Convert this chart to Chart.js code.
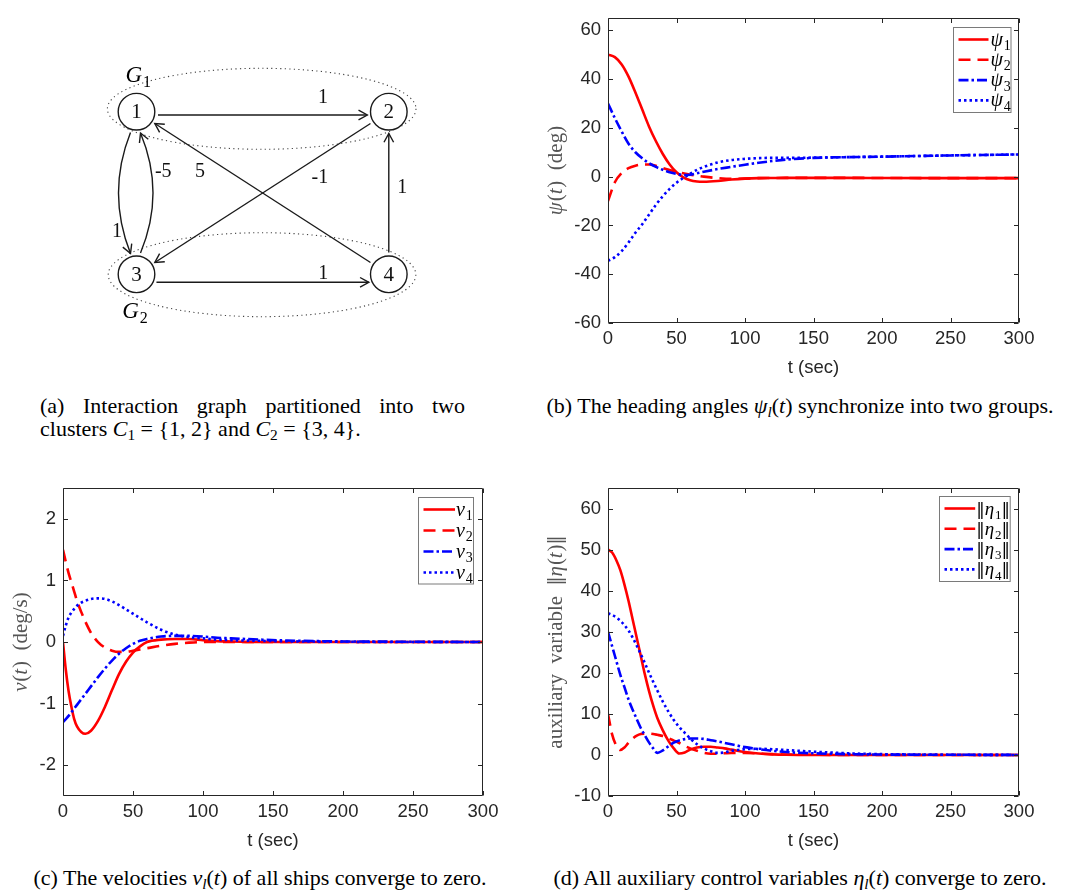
<!DOCTYPE html>
<html><head><meta charset="utf-8">
<script src="https://cdn.jsdelivr.net/npm/chart.js@4.4.1/dist/chart.umd.min.js"></script>
<style>
html,body{margin:0;padding:0;background:#fff;width:1070px;height:893px;overflow:hidden;position:relative;}
canvas{position:absolute;}
.cap{position:absolute;font-family:"Liberation Serif","Times New Roman",serif;font-size:22px;color:#000;white-space:nowrap;line-height:23px;}
.cap sub{font-size:0.7em;vertical-align:-0.25em;line-height:0;}
</style></head><body>
<canvas id="ca" width="360" height="280" style="left:90px;top:50px"></canvas>
<canvas id="cb" width="540" height="385" style="left:530px;top:0px"></canvas>
<canvas id="cc" width="530" height="385" style="left:0px;top:470px"></canvas>
<canvas id="cd" width="540" height="385" style="left:530px;top:470px"></canvas>

<div class="cap" style="left:40px;top:393.5px;width:425px;text-align:justify;text-align-last:justify;">(a) Interaction graph partitioned into two</div>
<div class="cap" style="left:40px;top:416.5px;">clusters <i>C</i><sub>1</sub> = {1, 2} and <i>C</i><sub>2</sub> = {3, 4}.</div>
<div class="cap" style="left:530px;top:393.5px;width:540px;text-align:center;">(b) The heading angles <i>ψ</i><sub><i>l</i></sub>(<i>t</i>) synchronize into two groups.</div>
<div class="cap" style="left:0px;top:865.5px;width:520px;text-align:center;">(c) The velocities <i>v</i><sub><i>l</i></sub>(<i>t</i>) of all ships converge to zero.</div>
<div class="cap" style="left:530px;top:865.5px;width:540px;text-align:center;">(d) All auxiliary control variables <i>η</i><sub><i>l</i></sub>(<i>t</i>) converge to zero.</div>

<script>
// ---------------- DATA ----------------
// (a) interaction graph
const nodeLabels = ['1', '2', '3', '4'];
const nodeX = [0, 1, 0, 1];
const nodeY = [1, 1, 0, 0];
const edgeFrom = [1, 3, 4, 4, 2, 1, 3];
const edgeTo = [2, 4, 2, 1, 3, 3, 1];
const edgeWeight = ['1', '1', '1', '5', '-1', '1', '-5'];
const clusterNames = ['G_1', 'G_2'];

// common x ticks
const xTicks = [0, 50, 100, 150, 200, 250, 300];

// (b) heading angles
const tB = [0,5,10,15,20,25,30,35,40,45,50,55,60,65,70,80,90,100,110,120,130,140,150,175,200,250,300];
const psi1 = [50,49,46,41,34.5,27.5,20.5,14.5,9.3,5,1.8,-0.3,-1.5,-2,-2.1,-1.8,-1.2,-0.8,-0.6,-0.55,-0.5,-0.5,-0.5,-0.5,-0.55,-0.6,-0.6];
const psi2 = [-10,-2.3,1.5,3.5,4.5,5,5,4.5,3.5,2.7,2,1.4,0.8,0.4,0,-0.6,-0.9,-0.8,-0.6,-0.55,-0.5,-0.5,-0.5,-0.5,-0.55,-0.6,-0.6];
const psi3 = [30,24,18.5,13.5,10,7.5,5.5,4,2.8,1.8,1.1,0.7,0.8,1.4,2,3.1,4,4.9,5.7,6.4,7,7.4,7.7,8,8.2,8.7,9.1];
const psi4 = [-34.5,-33,-30.5,-27,-23,-19.5,-15.5,-11.5,-8,-5,-2.5,-0.5,1.2,2.8,4,5.8,6.8,7.3,7.6,7.7,7.7,7.7,7.8,8,8.2,8.7,9.1];
const yTicksB = [-60, -40, -20, 0, 20, 40, 60];
const namesB = ['ψ_1', 'ψ_2', 'ψ_3', 'ψ_4'];

// (c) velocities
const tC = [0,2,4,6,8,10,13,16,20,25,30,35,40,45,50,55,60,70,80,90,100,110,120,140,160,200,250,300];
const v1 = [0,-0.45,-0.8,-1.05,-1.25,-1.37,-1.46,-1.49,-1.44,-1.28,-1.05,-0.78,-0.52,-0.32,-0.17,-0.07,0,0.04,0.05,0.05,0.03,0.015,0.01,0,0,0,0,0];
const v2 = [1.5,1.3,1.12,0.97,0.82,0.67,0.49,0.33,0.15,0,-0.09,-0.14,-0.16,-0.16,-0.14,-0.12,-0.1,-0.06,-0.03,-0.01,0,0,0,0,0,0,0,0];
const v3 = [-1.3,-1.25,-1.2,-1.14,-1.08,-1.02,-0.93,-0.84,-0.72,-0.57,-0.43,-0.3,-0.19,-0.1,-0.03,0.02,0.05,0.09,0.1,0.1,0.09,0.07,0.06,0.04,0.025,0.01,0.005,0];
const v4 = [0.1,0.27,0.4,0.48,0.54,0.59,0.64,0.67,0.7,0.71,0.7,0.66,0.6,0.53,0.46,0.39,0.32,0.2,0.12,0.08,0.06,0.04,0.03,0.02,0.012,0.005,0,0];
const yTicksC = [-2, -1, 0, 1, 2];
const namesC = ['v_1', 'v_2', 'v_3', 'v_4'];

// (d) auxiliary variables
const tD = [0,3,6,9,12,15,18,21,24,27,30,33,36,40,44,48,52,56,60,65,70,75,80,85,90,100,110,120,130,150,175,200,250,300];
const eta1 = [50,49.3,47.5,45,41.5,37.5,33,28.5,24,19.5,15.5,12,9,6,3.5,1.6,0.35,0.6,1.3,1.8,2,2,1.8,1.6,1.3,0.7,0.35,0.15,0.05,0,0,0,0,0];
const eta2 = [10,5,2.3,1.2,1.8,3,4,4.7,5.1,5.2,5.2,5.1,4.9,4.6,4.1,3.5,2.9,2.2,1.6,1,0.5,0.3,0.3,0.4,0.5,0.5,0.35,0.2,0.12,0.05,0,0,0,0];
const eta3 = [30,26.5,23,19.5,16.5,13.5,11,8.7,6.5,4.7,3,1.6,0.5,1.1,2.1,3,3.5,3.85,4,4,3.9,3.6,3.3,2.95,2.6,1.9,1.4,1,0.7,0.4,0.2,0.1,0.05,0];
const eta4 = [34.5,34.1,33.5,32.7,31.6,30.3,28.6,26.6,24.5,22.3,20,17.8,15.7,13,10.6,8.5,6.8,5.4,4,2.6,1.6,0.9,0.5,0.6,1,1.4,1.5,1.4,1.2,0.8,0.4,0.2,0.05,0];
const yTicksD = [-10, 0, 10, 20, 30, 40, 50, 60];
const namesD = ['‖η_1‖', '‖η_2‖', '‖η_3‖', '‖η_4‖'];

// ---------------- HELPERS ----------------
const SERIF = '"Liberation Serif","Times New Roman",serif';
const BARS = '"DejaVu Serif","Liberation Serif",serif';
const SANS = '"Liberation Sans",Arial,Helvetica,sans-serif';
const INK = '#262626';

function parseTex(s, allMath) {
  const segs = []; let math = !!allMath;
  for (let i = 0; i < s.length; i++) {
    const c = s[i];
    if (c === '$') { math = !math; continue; }
    if (c === '_') { segs.push({ t: s[++i], sub: true }); continue; }
    if (c === '‖') { segs.push({ t: c, bar: true }); continue; }
    const it = math && /[A-Za-zα-ω]/.test(c);
    segs.push({ t: c, it });
  }
  return segs;
}
function drawRich(ctx, segs, x, y, size, color, measureOnly) {
  let cx = x;
  for (const sg of segs) {
    const fs = sg.sub ? Math.round(size * 0.68) : (sg.bar ? Math.round(size * 0.88) : size);
    ctx.font = (sg.it ? 'italic ' : '') + fs + 'px ' + (sg.bar ? BARS : SERIF);
    if (!measureOnly) { ctx.fillStyle = color; ctx.fillText(sg.t, cx, y + (sg.sub ? size * 0.22 : 0)); }
    cx += ctx.measureText(sg.t).width + (sg.it ? size * 0.04 : 0);
  }
  return cx - x;
}

const framePlugin = {
  id: 'frame',
  afterDatasetsDraw(chart) {
    const { ctx, chartArea: a, scales } = chart;
    const L = Math.round(a.left) + 0.5, R = Math.round(a.right) - 0.5;
    const T = Math.round(a.top) + 0.5, B = Math.round(a.bottom) - 0.5;
    const tl = 4.5;
    ctx.save();
    ctx.strokeStyle = INK; ctx.lineWidth = 1; ctx.setLineDash([]);
    ctx.beginPath();
    ctx.rect(L, T, R - L, B - T);
    scales.x.ticks.forEach(t => {
      const px = Math.round(scales.x.getPixelForValue(t.value)) + 0.5;
      ctx.moveTo(px, B); ctx.lineTo(px, B - tl);
      ctx.moveTo(px, T); ctx.lineTo(px, T + tl);
    });
    scales.y.ticks.forEach(t => {
      const py = Math.round(scales.y.getPixelForValue(t.value)) + 0.5;
      ctx.moveTo(L, py); ctx.lineTo(L + tl, py);
      ctx.moveTo(R, py); ctx.lineTo(R - tl, py);
    });
    ctx.stroke();
    ctx.restore();
  }
};

const boxLegendPlugin = {
  id: 'boxLegend',
  afterDraw(chart, args, o) {
    if (!o || !o.names) return;
    const { ctx, chartArea: a } = chart;
    const bx = Math.round(a.right - o.insetR - o.w) + 0.5, by = Math.round(a.top + o.insetT) + 0.5;
    ctx.save();
    ctx.fillStyle = '#fff';
    ctx.fillRect(bx, by, o.w, o.h);
    ctx.strokeStyle = '#7a7a7a'; ctx.lineWidth = 1; ctx.setLineDash([]);
    ctx.strokeRect(bx, by, o.w, o.h);
    chart.data.datasets.forEach((ds, i) => {
      const yy = by + o.first + i * o.rowH;
      ctx.strokeStyle = ds.borderColor; ctx.lineWidth = ds.borderWidth;
      ctx.setLineDash(ds.borderDash || []);
      ctx.lineCap = 'butt';
      ctx.beginPath(); ctx.moveTo(bx + o.padL, yy); ctx.lineTo(bx + o.padL + o.sample, yy); ctx.stroke();
      ctx.setLineDash([]);
      ctx.textBaseline = 'alphabetic'; ctx.textAlign = 'left';
      drawRich(ctx, parseTex(o.names[i], true), bx + o.padL + o.sample + o.gap, yy + 6, o.size || 20, '#000');
    });
    ctx.restore();
  }
};

const yTitlePlugin = {
  id: 'yTitle',
  afterDraw(chart, args, o) {
    if (!o || !o.text) return;
    const { ctx, chartArea: a } = chart;
    const segs = parseTex(o.text, false);
    ctx.save();
    ctx.textBaseline = 'middle'; ctx.textAlign = 'left';
    const w = drawRich(ctx, segs, 0, 0, o.size, o.color, true);
    ctx.translate(o.cx, (a.top + a.bottom) / 2);
    ctx.rotate(-Math.PI / 2);
    drawRich(ctx, segs, -w / 2, 0, o.size, o.color);
    ctx.restore();
  }
};

function series(t, v) { return t.map((x, i) => ({ x, y: v[i] })); }

const STYLES = [
  { c: '#ff0000', d: [] },
  { c: '#ff0000', d: [12, 7] },
  { c: '#0000ff', d: [10, 3, 2.5, 3] },
  { c: '#0000ff', d: [2.5, 3] }
];

function lineChart(id, p) {
  const datasets = p.series.map((v, i) => ({
    label: p.names[i],
    data: series(p.t, v),
    borderColor: STYLES[i].c,
    borderDash: STYLES[i].d,
    borderWidth: 2.6,
    pointRadius: 0,
    fill: false,
    cubicInterpolationMode: 'monotone',
    order: 3 - i
  }));
  return new Chart(document.getElementById(id), {
    type: 'line',
    data: { datasets },
    options: {
      responsive: false, animation: false, devicePixelRatio: 1,
      layout: { autoPadding: false, padding: { left: 0, right: p.padR, top: p.padT, bottom: 0 } },
      plugins: {
        legend: { display: false }, tooltip: { enabled: false },
        boxLegend: p.legend,
        yTitle: p.yTitle
      },
      scales: {
        x: {
          type: 'linear', min: 0, max: 300,
          grid: { display: false, drawTicks: false }, border: { display: false },
          afterBuildTicks: s => { s.ticks = xTicks.map(v => ({ value: v })); },
          afterFit: s => { s.height = p.xH; },
          ticks: { padding: 5, color: INK, font: { family: SANS, size: 18.5 }, maxRotation: 0, autoSkip: false, callback: v => String(v) },
          title: { display: true, text: 't (sec)', color: INK, font: { family: SANS, size: 18.5, lineHeight: 1.2 }, padding: { top: 0, bottom: p.xTitlePad } }
        },
        y: {
          type: 'linear', min: p.yMin, max: p.yMax,
          grid: { display: false, drawTicks: false }, border: { display: false },
          afterBuildTicks: s => { s.ticks = p.yTicks.map(v => ({ value: v })); },
          afterFit: s => { s.width = p.yW; },
          ticks: { padding: 7, color: INK, font: { family: SANS, size: 18.5 }, autoSkip: false, callback: v => String(v) }
        }
      }
    },
    plugins: [framePlugin, boxLegendPlugin, yTitlePlugin]
  });
}

// (b)
lineChart('cb', {
  t: tB, series: [psi1, psi2, psi3, psi4], names: namesB,
  yMin: -60, yMax: 65, yTicks: yTicksB,
  padR: 51, padT: 8, yW: 78, xH: 62, xTitlePad: 6,
  legend: { names: namesB, insetR: 8.5, insetT: 9, w: 57.5, h: 85, first: 12, rowH: 20.3, padL: 5, sample: 30, gap: 2 },
  yTitle: { text: '$ψ(t)$  (deg)', cx: 26.7, size: 21, color: '#555' }
});
// (c)
lineChart('cc', {
  t: tC, series: [v1, v2, v3, v4], names: namesC,
  yMin: -2.5, yMax: 2.5, yTicks: yTicksC,
  padR: 47, padT: 5, yW: 63, xH: 59, xTitlePad: 3,
  legend: { names: namesC, insetR: 10, insetT: 9, w: 55, h: 86.5, first: 12, rowH: 21, padL: 5, sample: 31.5, gap: 1 },
  yTitle: { text: '$v(t)$  (deg/s)', cx: 21.7, size: 21, color: '#555' }
});
// (d)
lineChart('cd', {
  t: tD, series: [eta1, eta2, eta3, eta4], names: namesD,
  yMin: -10, yMax: 65, yTicks: yTicksD,
  padR: 51, padT: 11.7, yW: 78, xH: 59, xTitlePad: 3,
  legend: { names: namesD, insetR: 9.3, insetT: 8.3, w: 70.7, h: 85, first: 12, rowH: 20.3, padL: 5, sample: 30.7, gap: 1, size: 19 },
  yTitle: { text: 'auxiliary  variable  $‖η(t)‖$', cx: 26.7, size: 21, color: '#555' }
});

// (a) graph drawn on a scatter chart
const graphLayout = {
  xMin: -0.1843, xMax: 1.2426, yMin: -0.3426, yMax: 1.3795,
  rPx: 18.3,
  edgeShift: [3.3, 8, 0, 0, 0, 6, 4],
  edgeBend: [0, 0, 0, 0, 0, 24, 25],
  labelPos: [[0.739, 1.084], [0.740, 0.006], [1.0535, 0.531], [0.2517, 0.629], [0.727, 0.592], [-0.0773, 0.260], [0.106, 0.630]],
  clusters: [{ cx: 0.4962, cy: 1.0178, rx: 0.6116, ry: 0.2491, lx: 0.0067, ly: 1.2325 },
             { cx: 0.4975, cy: -0.0025, rx: 0.6096, ry: 0.2583, lx: -0.006, ly: -0.2196 }]
};

function arrowHead(ctx, tip, dir, len, ang) {
  const a = Math.atan2(dir.y, dir.x);
  ctx.moveTo(tip.x - len * Math.cos(a - ang), tip.y - len * Math.sin(a - ang));
  ctx.lineTo(tip.x, tip.y);
  ctx.lineTo(tip.x - len * Math.cos(a + ang), tip.y - len * Math.sin(a + ang));
}

const graphPlugin = {
  id: 'graph',
  beforeDatasetsDraw(chart) {
    const { ctx, scales: { x, y } } = chart;
    const G = graphLayout;
    ctx.save();
    ctx.strokeStyle = '#444'; ctx.lineWidth = 1.1; ctx.setLineDash([1.2, 3.3]);
    G.clusters.forEach(c => {
      const cx = x.getPixelForValue(c.cx), cy = y.getPixelForValue(c.cy);
      const rx = Math.abs(x.getPixelForValue(c.cx + c.rx) - cx), ry = Math.abs(y.getPixelForValue(c.cy + c.ry) - cy);
      ctx.beginPath(); ctx.ellipse(cx, cy, rx, ry, 0, 0, Math.PI * 2); ctx.stroke();
    });
    ctx.setLineDash([]);
    ctx.strokeStyle = '#1a1a1a'; ctx.lineWidth = 1.4; ctx.lineJoin = 'miter';
    const r = G.rPx, gap = 3.5;
    edgeFrom.forEach((f, i) => {
      const t = edgeTo[i];
      const P = { x: x.getPixelForValue(nodeX[f - 1]), y: y.getPixelForValue(nodeY[f - 1]) };
      const Q = { x: x.getPixelForValue(nodeX[t - 1]), y: y.getPixelForValue(nodeY[t - 1]) };
      const dx = Q.x - P.x, dy = Q.y - P.y, L = Math.hypot(dx, dy);
      const u = { x: dx / L, y: dy / L }, n = { x: -u.y, y: u.x };
      const s = G.edgeShift[i], b = G.edgeBend[i];
      const along = Math.sqrt(Math.max(r * r - s * s, 0)) + gap;
      const S = { x: P.x + u.x * along + n.x * s, y: P.y + u.y * along + n.y * s };
      const E = { x: Q.x - u.x * along + n.x * s, y: Q.y - u.y * along + n.y * s };
      ctx.beginPath();
      let dir;
      if (b) {
        const C = { x: (S.x + E.x) / 2 + n.x * b, y: (S.y + E.y) / 2 + n.y * b };
        ctx.moveTo(S.x, S.y); ctx.quadraticCurveTo(C.x, C.y, E.x, E.y);
        dir = { x: E.x - C.x, y: E.y - C.y };
      } else {
        ctx.moveTo(S.x, S.y); ctx.lineTo(E.x, E.y);
        dir = u;
      }
      ctx.stroke();
      ctx.beginPath(); arrowHead(ctx, E, dir, 10, 0.5); ctx.stroke();
    });
    ctx.restore();
  },
  afterDatasetsDraw(chart) {
    const { ctx, scales: { x, y } } = chart;
    const G = graphLayout;
    ctx.save();
    ctx.fillStyle = '#111'; ctx.textAlign = 'center'; ctx.textBaseline = 'middle';
    ctx.font = '21px ' + SERIF;
    nodeLabels.forEach((lab, i) => ctx.fillText(lab, x.getPixelForValue(nodeX[i]), y.getPixelForValue(nodeY[i]) + 1));
    ctx.font = '20px ' + SERIF;
    edgeWeight.forEach((w, i) => ctx.fillText(w, x.getPixelForValue(G.labelPos[i][0]), y.getPixelForValue(G.labelPos[i][1])));
    ctx.textAlign = 'left'; ctx.textBaseline = 'alphabetic';
    G.clusters.forEach((c, i) => {
      const segs = parseTex(clusterNames[i], true);
      const w = drawRich(ctx, segs, 0, 0, 23, '#000', true);
      drawRich(ctx, segs, x.getPixelForValue(c.lx) - w / 2, y.getPixelForValue(c.ly) + 8, 23, '#000');
    });
    ctx.restore();
  }
};

new Chart(document.getElementById('ca'), {
  type: 'scatter',
  data: { datasets: [{
    data: nodeX.map((v, i) => ({ x: v, y: nodeY[i] })),
    pointRadius: graphLayout.rPx, pointHoverRadius: graphLayout.rPx,
    pointBackgroundColor: '#fff', pointBorderColor: '#1a1a1a', pointBorderWidth: 1.4
  }] },
  options: {
    responsive: false, animation: false, devicePixelRatio: 1,
    layout: { autoPadding: false, padding: 0 },
    plugins: { legend: { display: false }, tooltip: { enabled: false } },
    scales: {
      x: { type: 'linear', display: false, min: graphLayout.xMin, max: graphLayout.xMax },
      y: { type: 'linear', display: false, min: graphLayout.yMin, max: graphLayout.yMax }
    }
  },
  plugins: [graphPlugin]
});
</script>
</body></html>
